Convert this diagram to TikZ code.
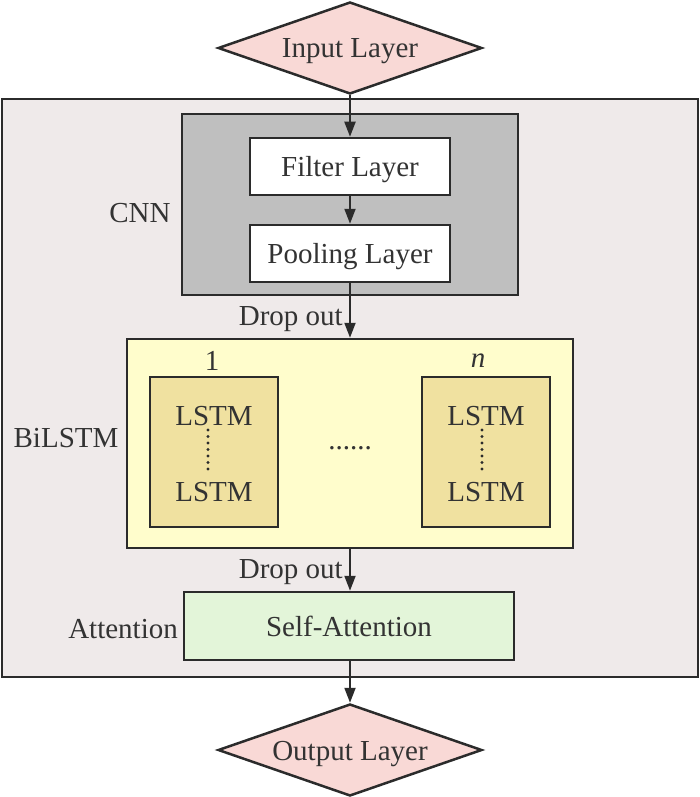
\documentclass[tikz,border=0pt]{standalone}
\usepackage{fontspec}
\setmainfont{Liberation Serif}
\usetikzlibrary{shapes.geometric,arrows.meta}
\definecolor{ink}{HTML}{2B2B2B}
\definecolor{txt}{HTML}{333333}
\definecolor{outerbg}{HTML}{EFEAEA}
\definecolor{cnnbg}{HTML}{BFBFBF}
\definecolor{lstmbg}{HTML}{FFFDCC}
\definecolor{cellbg}{HTML}{F0E1A0}
\definecolor{attbg}{HTML}{E3F5D9}
\definecolor{iobg}{HTML}{F9D9D6}
\tikzset{
  x=1pt, y=-1pt,
  every node/.style={font=\fontsize{29}{34}\selectfont, text=txt},
  frame/.style={draw=ink, line width=2pt},
  io/.style={diamond, draw=ink, line width=2.5pt, fill=iobg, inner sep=0pt, aspect=2.87,
             minimum width=264pt, minimum height=92pt, text height=20pt, text depth=0pt},
  layerbox/.style={draw=ink, line width=2.5pt, fill=white, minimum width=200pt, minimum height=57pt,
                   inner sep=0pt, text height=20pt, text depth=0pt},
  flow/.style={draw=ink, line width=2pt, -{Triangle[length=15pt,width=11pt]}},
  vdots/.style={ink, line width=3.2pt, line cap=round, dash pattern=on 0pt off 6.5pt},
  lbl/.style={inner sep=0pt}
}
\begin{document}
\begin{tikzpicture}
\useasboundingbox (0,0) rectangle (700,797);

% outer frame
\draw[frame, fill=outerbg] (2,99) rectangle (698,677);

% CNN block
\draw[frame, fill=cnnbg] (182,114) rectangle (518,295);
\node[lbl] (cnnlbl) at (140,213) {CNN};
\node[layerbox] (filter) at (350,166.5) {Filter Layer};
\node[layerbox] (pool) at (350,253.5) {Pooling Layer};

% BiLSTM block
\node[draw=ink, line width=2.5pt, fill=lstmbg, minimum width=446pt, minimum height=209pt, inner sep=0pt] (bilstm) at (350,443.5) {};
\node[lbl] (bilstmlbl) at (66,438) {BiLSTM};
\node[lbl] (one) at (212,361) {1};
\node[lbl] (enn) at (478,361) {\textit{n}};
\node[draw=ink, line width=2.5pt, fill=cellbg, minimum width=128pt, minimum height=150pt, inner sep=0pt] (cellA) at (214,452) {};
\node[draw=ink, line width=2.5pt, fill=cellbg, minimum width=128pt, minimum height=150pt, inner sep=0pt] (cellB) at (486,452) {};
\node[lbl] (a1) at (214,416) {LSTM};
\node[lbl] (a2) at (214,492) {LSTM};
\node[lbl] (b1) at (486,416) {LSTM};
\node[lbl] (b2) at (486,492) {LSTM};
\draw[vdots] (208,430) -- (208,470);
\draw[vdots] (482,430) -- (482,470);
\node[lbl] (dots) at (350,448) {......};

% attention block
\node[draw=ink, line width=2.5pt, fill=attbg, minimum width=330pt, minimum height=68pt, inner sep=0pt,
      text height=20pt, text depth=0pt] (att) at (349,626) {Self-Attention};
\node[lbl, anchor=east] (attlbl) at (178,629) {Attention};

% input / output
\node[io] (in) at (350,48) {Input Layer};
\node[io] (out) at (350,750) {Output Layer};

% connectors
\draw[flow] (in.south) -- (filter.north);
\draw[flow] (filter.south) -- (pool.north);
\draw[flow] (pool.south) -- (bilstm.north -| pool.south);
\node[lbl, anchor=east] (drop1) at (343,319) {Drop out};
\draw[flow] (bilstm.south) -- (att.north -| bilstm.south);
\node[lbl, anchor=east] (drop2) at (343,572) {Drop out};
\draw[flow] (att.south -| out.north) -- (out.north);
\end{tikzpicture}
\end{document}
